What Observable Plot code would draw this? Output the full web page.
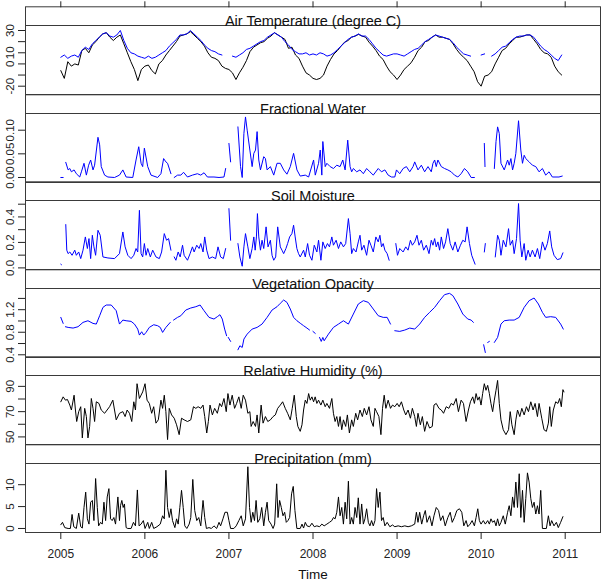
<!DOCTYPE html>
<html><head><meta charset="utf-8">
<script src="https://cdn.jsdelivr.net/npm/d3@7"></script>
<script src="https://cdn.jsdelivr.net/npm/@observablehq/plot@0.6"></script>
<style>
body{margin:0;background:#fff;}
#chart{position:relative;width:601px;height:585px;overflow:hidden;background:#fff;font-family:"Liberation Sans",Arial,sans-serif;}
#chart svg{position:absolute;left:0;}
</style></head><body><div id="chart"></div>
<script>
// ---------- data ----------
const yearTicks = [2005, 2006, 2007, 2008, 2009, 2010, 2011];
const panelTitles = ["Air Temperature (degree C)", "Fractional Water", "Soil Moisture", "Vegetation Opacity", "Relative Humidity (%)", "Precipitation (mm)"];

// air temperature: half-monthly series starting 2005.0
const airTempStart = 2005, airTempStep = 1 / 24;
const airTempBlack = [
  -6,-13,2,-2,0,-1,12,14,10,17,20,24,27,28,24,21,24,26,18,10,2,-5,-15,-5,
  -2,-1,-6,-9,0,3,8,12,16,20,25,26,27,29,26,23,20,16,10,6,5,3,-2,-4,
  -5,-8,-14,-8,-3,3,11,15,17,19,20,23,25,28,26,24,22,14,15,8,5,-2,-8,-10,
  -13,-14,-13,-10,-2,4,9,12,16,19.5,21,24,25,26.5,25,24,19.5,16,12,7,4,-2,-7,-10,
  -14,-10,-5,-2,1,6,12,15,20,21,24,26,24,24,23,22,18,13,9,6,3,-2,-7,-16,
  -20,-11,-10,-7,0,6,12,14,18,21,24,24,25,26,26,22,18,13,10,9,6,-2,-7,-10
];
const airTempBlue = [
  6,8,5,7,8,6,12,15,13,18,21,24,27,28,25,24,26,30,21,14,10,9,7,6,
  5,7,5,6,8,10,12,16,19,22,26,26,27,30,27,24,21,17,14,12,11,9,8,null,
  null,7,6,8,10,13,14,16,18,20,21,24,26,28,26,24,20,17,13,11,9,9,10,8,
  9,8,10,9,7,8,10,13,16,19,22,24,25,27,25,25,22,18,14,11,8,7,8,9,
  9,8,7,9,11,13,14,17,20,22,24,26,25,24,23,22,19,15,12,9,8,7,null,null,
  8,9,null,7,9,12,15,16,19,22,24,25,25,26,26,24,20,16,13,11,8,5,3,8
];

// [decimal year, value]; null = gap
const fractionalWater = [
  [2005.000,0],[2005.028,0],null,[2005.059,0.032],[2005.087,0.016],[2005.107,0.019],[2005.126,0.012],[2005.158,0.016],[2005.185,0.008],[2005.225,0.001],[2005.245,0.012],[2005.276,0.030],[2005.304,0.005],[2005.331,0.026],[2005.355,0.037],[2005.383,0.016],[2005.402,0.026],[2005.442,0.085],[2005.462,0.069],[2005.481,0.023],[2005.521,0.005],[2005.560,0.001],[2005.639,0],[2005.698,0.005],[2005.738,0.016],[2005.777,0.001],[2005.856,0],[2005.895,0.037],[2005.927,0.065],[2005.955,0.030],[2005.974,0.023],[2005.994,0.062],[2006.034,0.023],[2006.073,0.005],[2006.152,0],[2006.191,0.008],[2006.223,0.040],[2006.250,0.033],[2006.270,0.030],[2006.310,0.008],null,
  [2006.349,0],[2006.389,0.005],[2006.428,0.005],[2006.460,0.011],[2006.507,0.001],[2006.566,0.005],[2006.625,0.008],[2006.665,0.005],[2006.704,0.010],[2006.744,0.001],[2006.822,0.001],[2006.882,0],[2006.941,0.001],[2006.961,0.019],null,[2007.000,0.072],[2007.020,0.033],null,
  [2007.107,0.107],[2007.138,0.023],[2007.158,0],[2007.178,0.093],[2007.197,0.128],[2007.217,0.100],[2007.249,0.058],[2007.276,0.023],[2007.296,0.051],[2007.316,0.058],[2007.335,0.097],[2007.355,0.037],[2007.375,0.016],[2007.414,0.044],[2007.434,0.040],[2007.454,0.016],[2007.493,0.023],[2007.533,0.005],[2007.572,0.030],[2007.611,0.030],[2007.651,0.016],[2007.690,0.007],[2007.730,0.023],[2007.769,0.051],[2007.809,0.016],[2007.848,0.003],
  [2007.908,0.005],[2007.948,0.001],[2008.007,0.037],[2008.027,0.005],[2008.066,0.030],[2008.086,0.058],[2008.105,0.005],[2008.117,0.076],[2008.145,0.023],[2008.165,0.030],[2008.204,0.023],[2008.243,0.019],[2008.283,0.026],[2008.322,0.023],[2008.354,0.037],[2008.382,0.016],[2008.413,0.079],[2008.441,0.023],[2008.460,0.012],[2008.480,0.019],[2008.520,0.012],[2008.559,0.016],[2008.599,0.008],[2008.638,0.019],[2008.677,0.012],[2008.717,0.005],[2008.776,0.019],[2008.815,0.012],[2008.855,0.016],[2008.894,0.005],[2008.934,0.001],[2008.973,0.001],[2008.993,0.016],
  [2009.032,0.008],[2009.072,0.019],[2009.111,0.023],[2009.151,0.012],[2009.190,0.023],[2009.210,0.033],[2009.249,0.016],[2009.289,0.026],[2009.328,0.012],[2009.368,0.023],[2009.407,0.012],[2009.427,0.030],[2009.447,0.037],[2009.466,0.023],[2009.486,0.037],[2009.526,0.023],[2009.565,0.019],[2009.604,0.016],[2009.644,0.012],[2009.683,0.005],[2009.723,0.001],[2009.762,0.008],[2009.802,0.019],[2009.841,0.012],[2009.881,0],[2009.920,0],null,
  [2010.038,0.072],[2010.046,0.023],null,[2010.157,0.019],[2010.177,0.076],[2010.196,0.107],[2010.216,0.093],[2010.236,0.030],[2010.275,0.016],[2010.315,0.037],[2010.334,0.026],[2010.354,0.040],[2010.374,0.016],[2010.393,0.030],[2010.413,0.051],[2010.445,0.120],[2010.472,0.058],[2010.492,0.030],[2010.512,0.047],[2010.531,0.040],[2010.571,0.033],[2010.610,0.026],[2010.650,0.023],[2010.689,0.012],[2010.729,0.019],[2010.768,0.005],[2010.808,0.012],[2010.847,0.001],[2010.926,0.001],[2010.965,0.003]
];

const soilMoisture = [
  [2005.000,0.029],[2005.008,0.025],null,[2005.059,0.34],[2005.071,0.139],[2005.087,0.112],[2005.107,0.125],[2005.134,0.099],[2005.166,0.139],[2005.185,0.099],[2005.213,0.125],[2005.237,0.073],[2005.264,0.139],[2005.292,0.243],[2005.316,0.152],[2005.335,0.23],[2005.355,0.073],[2005.375,0.256],[2005.394,0.165],[2005.414,0.099],[2005.442,0.295],[2005.469,0.256],[2005.501,0.086],[2005.560,0.078],[2005.639,0.073],[2005.698,0.112],[2005.738,0.282],[2005.765,0.165],[2005.797,0.099],[2005.836,0.073],[2005.868,0.099],[2005.895,0.152],[2005.915,0.125],[2005.935,0.452],[2005.955,0.112],[2005.974,0.086],[2005.994,0.191],
  [2006.014,0.099],[2006.034,0.152],[2006.065,0.086],[2006.093,0.139],[2006.132,0.086],[2006.172,0.073],[2006.199,0.125],[2006.231,0.269],[2006.258,0.217],[2006.282,0.23],[2006.310,0.139],null,[2006.349,0.086],[2006.369,0.06],[2006.396,0.125],[2006.420,0.086],[2006.448,0.178],[2006.467,0.099],[2006.507,0.06],[2006.538,0.112],[2006.566,0.165],[2006.586,0.125],[2006.617,0.178],[2006.645,0.152],[2006.665,0.191],[2006.692,0.125],[2006.712,0.243],[2006.736,0.139],[2006.763,0.073],[2006.803,0.086],[2006.842,0.073],[2006.870,0.165],[2006.901,0.086],[2006.933,0.073],[2006.961,0.152],null,[2007.000,0.465],[2007.020,0.217],null,
  [2007.107,0.191],[2007.130,0.086],[2007.158,0.013],[2007.178,0.165],[2007.197,0.269],[2007.225,0.165],[2007.249,0.073],[2007.276,0.152],[2007.296,0.243],[2007.312,0.139],[2007.327,0.243],[2007.339,0.426],[2007.355,0.243],[2007.375,0.139],[2007.394,0.217],[2007.414,0.152],[2007.442,0.322],[2007.465,0.165],[2007.493,0.217],[2007.513,0.099],[2007.533,0.06],[2007.556,0.086],[2007.580,0.322],[2007.611,0.165],[2007.631,0.139],[2007.651,0.112],[2007.678,0.152],[2007.698,0.191],[2007.722,0.243],[2007.749,0.269],[2007.769,0.335],[2007.788,0.243],[2007.808,0.152],[2007.828,0.112],[2007.848,0.086],
  [2007.888,0.139],[2007.908,0.086],[2007.936,0.191],[2007.959,0.099],[2007.987,0.06],[2008.015,0.178],[2008.046,0.125],[2008.066,0.217],[2008.094,0.06],[2008.117,0.204],[2008.145,0.152],[2008.172,0.191],[2008.196,0.165],[2008.224,0.243],[2008.243,0.178],[2008.275,0.217],[2008.303,0.152],[2008.330,0.204],[2008.362,0.165],[2008.389,0.191],[2008.421,0.387],[2008.441,0.269],[2008.460,0.112],[2008.480,0.152],[2008.512,0.125],[2008.539,0.204],[2008.559,0.256],[2008.579,0.139],[2008.606,0.178],[2008.638,0.099],[2008.666,0.217],[2008.689,0.178],[2008.717,0.125],[2008.748,0.243],[2008.776,0.204],[2008.796,0.256],[2008.815,0.165],[2008.835,0.191],[2008.855,0.139],[2008.882,0.112],[2008.906,0.06],null,
  [2008.985,0.191],[2009.005,0.099],[2009.032,0.152],[2009.072,0.125],[2009.103,0.165],[2009.131,0.139],[2009.159,0.217],[2009.182,0.178],[2009.210,0.204],[2009.237,0.256],[2009.261,0.178],[2009.289,0.217],[2009.316,0.139],[2009.348,0.178],[2009.380,0.112],[2009.407,0.217],[2009.427,0.178],[2009.447,0.23],[2009.466,0.165],[2009.486,0.204],[2009.506,0.139],[2009.526,0.243],[2009.553,0.152],[2009.577,0.204],[2009.604,0.308],[2009.632,0.191],[2009.663,0.139],[2009.691,0.204],[2009.723,0.125],[2009.754,0.178],[2009.782,0.217],[2009.810,0.204],[2009.833,0.322],[2009.861,0.191],[2009.888,0.099],[2009.928,0.029],null,
  [2010.038,0.125],[2010.050,0.191],null,[2010.168,0.086],[2010.196,0.256],[2010.216,0.217],[2010.236,0.099],[2010.263,0.217],[2010.295,0.165],[2010.326,0.308],[2010.346,0.178],[2010.374,0.217],[2010.393,0.112],[2010.421,0.23],[2010.445,0.505],[2010.464,0.217],[2010.484,0.086],[2010.512,0.191],[2010.531,0.06],[2010.559,0.139],[2010.583,0.086],[2010.610,0.139],[2010.642,0.086],[2010.670,0.152],[2010.697,0.073],[2010.729,0.204],[2010.760,0.139],[2010.788,0.191],[2010.816,0.29],[2010.839,0.165],[2010.867,0.099],[2010.906,0.065],[2010.946,0.073],[2010.973,0.118]
];

const vegetationOpacity = [
  [2005.000,1.064],[2005.028,0.957],null,[2005.055,0.898],[2005.087,0.886],[2005.146,0.874],[2005.205,0.898],[2005.264,0.975],[2005.323,1.004],[2005.383,0.957],[2005.422,0.945],[2005.462,1.093],[2005.501,1.241],[2005.540,1.283],[2005.600,1.283],[2005.659,1.182],[2005.698,0.945],[2005.738,1.016],[2005.777,1.004],[2005.836,0.993],[2005.876,0.945],[2005.915,0.856],[2005.935,0.75],[2005.962,0.809],[2005.986,0.75],
  [2006.014,0.797],[2006.053,0.886],[2006.105,0.933],[2006.152,0.916],[2006.183,0.886],[2006.211,0.797],[2006.250,0.886],[2006.302,0.975],null,[2006.341,1.016],[2006.389,1.064],[2006.428,1.093],[2006.487,1.194],[2006.546,1.23],[2006.606,1.253],[2006.657,1.283],[2006.704,1.182],[2006.763,1.064],[2006.822,1.034],[2006.862,1.076],[2006.893,1.111],[2006.921,1.034],[2006.949,0.856],[2006.972,0.738],null,[2006.992,0.708],[2007.020,0.637],null,
  [2007.107,0.489],[2007.130,0.56],[2007.158,0.53],[2007.178,0.679],[2007.217,0.767],[2007.276,0.856],[2007.335,0.886],[2007.394,0.945],[2007.454,1.064],[2007.513,1.194],[2007.572,1.253],[2007.611,1.313],[2007.651,1.372],[2007.690,1.33],[2007.730,1.212],[2007.769,1.064],[2007.809,1.004],[2007.848,0.96],[2007.888,0.916],[2007.928,0.874],[2007.959,0.839],null,[2007.999,0.815],[2008.027,0.779],null,
  [2008.078,0.708],[2008.098,0.637],[2008.117,0.708],[2008.133,0.649],[2008.184,0.767],[2008.243,0.886],[2008.303,0.945],[2008.362,1.004],[2008.421,0.945],[2008.480,1.123],[2008.539,1.301],[2008.599,1.36],[2008.658,1.33],[2008.717,1.212],[2008.776,1.093],[2008.835,1.064],[2008.882,1.064],[2008.922,0.945],null,
  [2008.973,0.827],[2009.032,0.815],[2009.092,0.839],[2009.151,0.874],[2009.210,0.856],[2009.269,0.945],[2009.328,1.064],[2009.387,1.153],[2009.447,1.241],[2009.506,1.36],[2009.565,1.467],[2009.624,1.49],[2009.664,1.449],[2009.723,1.301],[2009.782,1.123],[2009.841,1.034],[2009.881,1.016],[2009.908,0.975],null,
  [2010.030,0.578],[2010.050,0.441],null,[2010.078,0.619],[2010.098,0.637],null,[2010.157,0.619],[2010.196,0.708],[2010.236,0.945],[2010.275,1.004],[2010.334,1.016],[2010.393,1.016],[2010.453,1.064],[2010.512,1.241],[2010.571,1.36],[2010.630,1.407],[2010.681,1.301],[2010.729,1.153],[2010.768,1.064],[2010.827,1.076],[2010.887,1.064],[2010.946,0.945],[2010.977,0.856]
];

const relativeHumidity = [
  [2005.000,77.8],[2005.028,81.7],[2005.055,79.1],[2005.079,79.6],[2005.107,75.2],[2005.126,71.3],[2005.158,83],[2005.174,71.3],[2005.189,62.2],[2005.213,70],[2005.237,73.9],[2005.256,49.2],[2005.284,72.6],[2005.304,66.1],[2005.323,49.2],[2005.343,58.3],[2005.363,80.4],[2005.383,72.6],[2005.402,62.2],[2005.422,77.8],[2005.454,76.5],[2005.481,71.3],[2005.521,68.7],[2005.580,73.9],[2005.619,79.1],[2005.659,63.5],[2005.698,68.7],[2005.738,70],[2005.765,66.1],[2005.789,71.3],[2005.817,68.7],[2005.844,62.2],[2005.868,77.8],[2005.888,71.3],[2005.907,92.1],[2005.935,80.4],[2005.974,85.6],
  [2006.002,92.1],[2006.026,79.1],[2006.053,76.5],[2006.081,68.7],[2006.105,73.9],[2006.132,60.9],[2006.160,63.5],[2006.191,79.1],[2006.211,72.6],[2006.231,83],[2006.250,70],[2006.270,47.9],[2006.290,72.6],[2006.318,67.4],[2006.349,64.8],[2006.377,59.6],[2006.408,51.8],[2006.436,64.8],[2006.467,63.5],[2006.507,62.2],[2006.546,63.5],[2006.578,73.9],[2006.606,72.6],[2006.633,73.9],[2006.665,72.6],[2006.692,75.2],[2006.712,66.1],[2006.736,53.1],[2006.755,62.2],[2006.775,75.2],[2006.803,67.4],[2006.830,72.6],[2006.862,68.7],[2006.890,76.5],[2006.913,73.9],[2006.941,80.4],[2006.968,70],[2006.988,84.3],
  [2007.012,75.2],[2007.039,83],[2007.067,72.6],[2007.091,76.5],[2007.118,81.7],[2007.146,72.6],[2007.170,83],[2007.197,79.1],[2007.225,68.7],[2007.249,70],[2007.264,58.3],[2007.288,62.2],[2007.316,58.3],[2007.335,67.4],[2007.355,53.1],[2007.383,75.2],[2007.406,60.9],[2007.434,66.1],[2007.462,62.2],[2007.493,63.5],[2007.525,66.1],[2007.552,67.4],[2007.580,72.6],[2007.611,75.2],[2007.639,77.8],[2007.670,72.6],[2007.698,68.7],[2007.730,63.5],[2007.753,72.6],[2007.777,83],[2007.801,66.1],[2007.820,58.3],[2007.848,54.4],[2007.869,59.6],[2007.888,71.3],[2007.908,79.1],[2007.928,76.5],[2007.948,84.3],[2007.967,79.1],[2007.987,81.7],
  [2008.007,77.8],[2008.026,81.7],[2008.046,76.5],[2008.066,79.1],[2008.094,75.2],[2008.117,79.1],[2008.145,73.9],[2008.165,76.5],[2008.196,72.6],[2008.224,80.4],[2008.243,68.7],[2008.263,62.2],[2008.283,66.1],[2008.303,58.3],[2008.322,66.1],[2008.342,55.7],[2008.362,63.5],[2008.389,58.3],[2008.409,67.4],[2008.433,53.1],[2008.460,63.5],[2008.480,58.3],[2008.508,68.7],[2008.531,63.5],[2008.559,71.3],[2008.587,66.1],[2008.610,72.6],[2008.638,67.4],[2008.666,73.9],[2008.689,63.5],[2008.717,58.3],[2008.737,72.6],[2008.756,70],[2008.784,66.1],[2008.808,51.8],[2008.827,72.6],[2008.847,83],[2008.867,72.6],[2008.894,79.1],[2008.922,72.6],[2008.946,75.2],[2008.973,73.9],
  [2009.001,76.5],[2009.025,73.9],[2009.052,77.8],[2009.080,71.3],[2009.103,67.4],[2009.131,71.3],[2009.159,64.8],[2009.182,72.6],[2009.210,66.1],[2009.230,58.3],[2009.249,68.7],[2009.277,59.6],[2009.301,66.1],[2009.328,54.4],[2009.356,62.2],[2009.387,57],[2009.419,58.3],[2009.439,75.2],[2009.466,76.5],[2009.498,72.6],[2009.526,71.3],[2009.553,68.7],[2009.585,73.9],[2009.616,72.6],[2009.644,76.5],[2009.671,75.2],[2009.703,80.4],[2009.730,70],[2009.762,79.1],[2009.790,76.5],[2009.821,62.2],[2009.849,71.3],[2009.873,77.8],[2009.900,81.7],[2009.920,76.5],[2009.940,84.3],[2009.960,79.1],[2009.979,81.7],
  [2009.999,75.2],[2010.018,84.3],[2010.038,92.1],[2010.058,86.9],[2010.078,90.8],[2010.098,84.3],[2010.117,76.5],[2010.137,70],[2010.157,79.1],[2010.177,86.9],[2010.196,94.7],[2010.216,76.5],[2010.236,63.5],[2010.263,55.7],[2010.295,51.8],[2010.326,55.7],[2010.346,70],[2010.366,59.6],[2010.393,51.8],[2010.413,63.5],[2010.433,71.3],[2010.460,66.1],[2010.484,72.6],[2010.512,67.4],[2010.539,73.9],[2010.563,70],[2010.591,77.8],[2010.618,71.3],[2010.642,76.5],[2010.670,66.1],[2010.689,76.5],[2010.721,64.8],[2010.748,55.7],[2010.776,54.4],[2010.800,60.9],[2010.816,73.9],[2010.835,58.3],[2010.859,71.3],[2010.887,77.8],[2010.914,76.5],[2010.934,80.4],[2010.954,73.9],[2010.973,87.4],[2010.985,85.6]
];

const precipitation = [
  [2005.000,0.85],[2005.020,1.4],[2005.047,0.2],[2005.087,0],[2005.114,0],[2005.134,3.2],[2005.154,0.4],[2005.185,0],[2005.213,3.5],[2005.237,0.4],[2005.256,0.1],[2005.276,4.8],[2005.296,8.3],[2005.316,2.2],[2005.335,1],[2005.355,6],[2005.375,6.4],[2005.394,1.8],[2005.414,11.4],[2005.434,4.8],[2005.450,0.6],[2005.473,1.4],[2005.493,1],[2005.513,6],[2005.533,1.8],[2005.552,7.2],[2005.572,9.1],[2005.592,2.2],[2005.611,1.8],[2005.631,2.5],[2005.651,1],[2005.679,7.2],[2005.698,1.8],[2005.710,5.2],[2005.726,6.4],[2005.742,4.8],[2005.757,5.6],[2005.777,0.2],[2005.797,0],[2005.836,0],[2005.864,1.4],[2005.888,0.6],[2005.911,8.8],[2005.931,0.6],[2005.955,1],[2005.982,1.8],
  [2006.002,0],[2006.034,1.4],[2006.053,0],[2006.081,1.4],[2006.105,0],[2006.144,0.4],[2006.183,1],[2006.211,2.9],[2006.231,2.2],[2006.250,13.3],[2006.270,4.8],[2006.290,2.5],[2006.310,4.5],[2006.329,1.8],[2006.357,0.2],[2006.377,2.2],[2006.396,1],[2006.416,4.8],[2006.436,8.7],[2006.456,4.8],[2006.475,0.6],[2006.499,0],[2006.527,1],[2006.546,2.5],[2006.570,11.2],[2006.593,4.1],[2006.617,1.8],[2006.641,2.5],[2006.665,0.6],[2006.692,6.4],[2006.712,2.5],[2006.732,0],[2006.763,0.2],[2006.791,0],[2006.822,0.6],[2006.854,0],[2006.882,1.4],[2006.901,0.6],[2006.929,2.2],[2006.953,3.7],[2006.981,3.7],
  [2007.000,1.8],[2007.020,0],[2007.059,0],[2007.087,0.6],[2007.118,1.8],[2007.146,2.9],[2007.170,0.6],[2007.197,2.2],[2007.225,14.1],[2007.245,4.8],[2007.264,1.4],[2007.284,3.7],[2007.304,1.8],[2007.323,6.4],[2007.343,1.4],[2007.367,2.2],[2007.390,4.8],[2007.414,0.6],[2007.434,3.7],[2007.454,6],[2007.473,1.8],[2007.501,1],[2007.525,0],[2007.544,1],[2007.568,10.2],[2007.584,2.5],[2007.603,6.4],[2007.623,4.8],[2007.643,2.9],[2007.663,3.7],[2007.682,1.4],[2007.702,1.8],[2007.722,2.5],[2007.745,7.9],[2007.765,9.6],[2007.785,4.1],[2007.808,0],[2007.848,0],[2007.869,1],[2007.888,0.1],[2007.908,1.4],[2007.928,0.6],[2007.959,0.4],[2007.987,1.2],
  [2008.015,0.4],[2008.046,0.6],[2008.078,0.4],[2008.105,1],[2008.133,0.6],[2008.165,1],[2008.196,1.4],[2008.224,1.8],[2008.243,2.5],[2008.263,2.2],[2008.283,3.7],[2008.303,7.2],[2008.322,2.9],[2008.342,4.8],[2008.362,1],[2008.382,6],[2008.401,2.2],[2008.421,10.8],[2008.441,1],[2008.460,2.5],[2008.480,1],[2008.500,4.8],[2008.520,2.5],[2008.539,7],[2008.559,1],[2008.579,5.6],[2008.599,1],[2008.618,2.2],[2008.638,4.5],[2008.658,1.4],[2008.677,0.6],[2008.697,1.8],[2008.717,0.6],[2008.737,1.8],[2008.756,9.1],[2008.776,4.8],[2008.796,8.3],[2008.815,1.8],[2008.835,2.5],[2008.855,0.6],[2008.882,1.4],[2008.914,0.4],[2008.946,0.8],[2008.973,0.4],
  [2009.013,0.6],[2009.052,0.4],[2009.092,0.6],[2009.131,0.4],[2009.170,0.6],[2009.210,1],[2009.230,3.7],[2009.249,1.4],[2009.269,3.7],[2009.293,1],[2009.316,2.9],[2009.336,4.1],[2009.356,1.4],[2009.387,2.9],[2009.415,0.6],[2009.439,2.9],[2009.466,4.8],[2009.494,4.1],[2009.518,1.8],[2009.545,2.9],[2009.573,0.6],[2009.604,2.5],[2009.632,3.7],[2009.656,1.4],[2009.683,2.5],[2009.711,4.1],[2009.742,4.5],[2009.770,3.7],[2009.794,0.6],[2009.821,1.8],[2009.841,0.4],[2009.869,1],[2009.893,1.8],[2009.920,0.6],[2009.940,2.5],[2009.960,4.5],[2009.979,1.8],
  [2009.999,1],[2010.026,1.8],[2010.050,1],[2010.078,1.8],[2010.098,1],[2010.117,2.2],[2010.137,1.4],[2010.157,1.8],[2010.177,0.6],[2010.196,2.2],[2010.216,0.6],[2010.236,1.4],[2010.263,2.9],[2010.287,1],[2010.315,3.7],[2010.334,5.2],[2010.354,2.9],[2010.374,7.2],[2010.393,4.8],[2010.413,10.6],[2010.433,4.8],[2010.453,12.5],[2010.472,2.5],[2010.492,8.7],[2010.512,1.4],[2010.531,6.8],[2010.551,12.7],[2010.571,10.6],[2010.591,6.8],[2010.610,4.8],[2010.630,6],[2010.650,3.3],[2010.670,5.2],[2010.689,3.3],[2010.709,8.7],[2010.729,0],[2010.748,0],[2010.776,0],[2010.800,2.9],[2010.820,0.6],[2010.839,1.8],[2010.867,0.6],[2010.895,1.4],[2010.918,0.2],[2010.946,1.4],[2010.973,2.7]
];

// y-axis ticks and which of them carry a label
const airTempTicks = [-20,-10,0,10,20,30], airTempLabels = ["-20","","0","10","","30"];
const fwTicks = [0,0.05,0.1], fwLabels = ["0.00","0.05","0.10"];
const smTicks = [0,0.1,0.2,0.3,0.4,0.5], smLabels = ["0.0","","0.2","","0.4",""];
const voTicks = [0.4,0.6,0.8,1.0,1.2,1.4], voLabels = ["0.4","","0.8","","1.2",""];
const rhTicks = [50,60,70,80,90], rhLabels = ["50","","70","","90"];
const prTicks = [0,5,10], prLabels = ["0","5","10"];

// ---------- layout ----------
const W = 601, ML = 25, MR = 1, MT = 30, MB = 52, PH = 69, STRIP = 18.7;
const panelTop = [25, 113.1, 200.3, 287.6, 375.2, 463.1];
const xDomain = [2004.58, 2011.42];
const FONT = '"Liberation Sans", Arial, sans-serif';
const chart = document.getElementById("chart");

const toRows = pairs => pairs.map(p => p === null ? {t: null, v: null} : {t: p[0], v: p[1]});
const gridRows = vals => vals.map((v, i) => ({t: airTempStart + i * airTempStep, v}));

function panel(k, {series, yDomain, ticks, labels, first = false, last = false}) {
  const fmt = d => labels[ticks.indexOf(d)] ?? "";
  const marks = [
    Plot.frame({stroke: "#3a3a3a", strokeWidth: 1}),
    Plot.frame({stroke: "#3a3a3a", strokeWidth: 1, insetTop: -STRIP, insetBottom: PH}),
    Plot.text([panelTitles[k]], {text: d => d, frameAnchor: "top", dy: -STRIP / 2, fontSize: 14.5, fill: "#111"}),
    Plot.axisY(ticks, {anchor: "left", tickSize: 7, tickPadding: 5, tickRotate: -90, tickFormat: fmt, fontSize: 11.5, label: null}),
    ...series.map(s => Plot.line(s.rows, {x: "t", y: "v", stroke: s.color, strokeWidth: 1}))
  ];
  if (first) marks.push(Plot.axisX(yearTicks, {anchor: "top", tickSize: 6, dy: -STRIP, tickFormat: () => "", label: null}));
  if (last) {
    marks.push(Plot.axisX(yearTicks, {anchor: "bottom", tickSize: 7, tickPadding: 10, tickFormat: d => String(d), fontSize: 12, label: null}));
    marks.push(Plot.text(["Time"], {text: d => d, frameAnchor: "bottom", dy: 46, fontSize: 13.5, fill: "#111"}));
  }
  const svg = Plot.plot({
    width: W, height: MT + PH + MB,
    marginLeft: ML, marginRight: MR, marginTop: MT, marginBottom: MB,
    x: {domain: xDomain, axis: null, label: null},
    y: {domain: yDomain, axis: null, label: null},
    style: {background: "transparent", overflow: "visible", fontFamily: FONT, fontSize: "11.5px", color: "#222"},
    marks
  });
  svg.style.top = (panelTop[k] - MT) + "px";
  chart.appendChild(svg);
}

panel(0, {series: [{rows: gridRows(airTempBlack), color: "black"}, {rows: gridRows(airTempBlue), color: "blue"}],
  yDomain: [-27.45, 34.49], ticks: airTempTicks, labels: airTempLabels, first: true});
panel(1, {series: [{rows: toRows(fractionalWater), color: "blue"}], yDomain: [-0.0106, 0.1353], ticks: fwTicks, labels: fwLabels});
panel(2, {series: [{rows: toRows(soilMoisture), color: "blue"}], yDomain: [-0.0126, 0.529], ticks: smTicks, labels: smLabels});
panel(3, {series: [{rows: toRows(vegetationOpacity), color: "blue"}], yDomain: [0.352, 1.576], ticks: voTicks, labels: voLabels});
panel(4, {series: [{rows: toRows(relativeHumidity), color: "black"}], yDomain: [44, 98.6], ticks: rhTicks, labels: rhLabels});
panel(5, {series: [{rows: toRows(precipitation), color: "black"}], yDomain: [-0.92, 14.84], ticks: prTicks, labels: prLabels, last: true});
</script></body></html>
